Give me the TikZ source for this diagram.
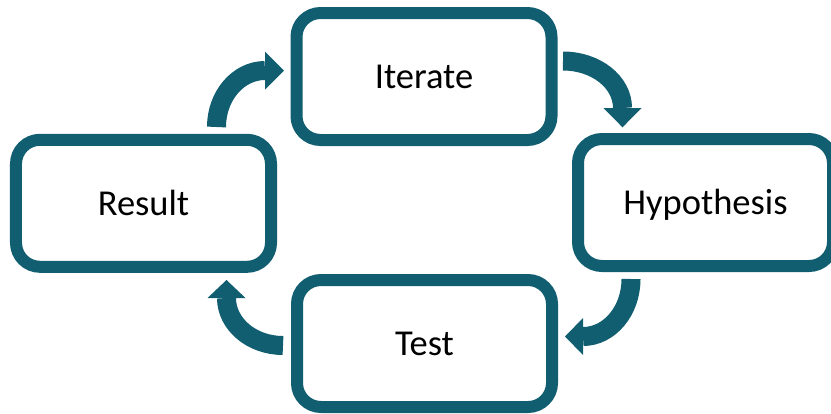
\documentclass[tikz,border=0pt]{standalone}
\usepackage{fontspec}
\setmainfont{Carlito}
\definecolor{teal}{RGB}{17,94,113}
\tikzset{
  stagebox/.style={draw=teal, line width=12bp, rounded corners=24bp, fill=white,
    minimum width=255bp, minimum height=127bp, inner sep=0pt,
    text height=23.5bp, text depth=0pt,
    font=\fontsize{36.5bp}{40bp}\selectfont},
  shaft/.style={draw=teal, line width=19bp, line cap=butt},
  head/.style={fill=teal}
}
\begin{document}
\begin{tikzpicture}[x=1bp,y=-1bp]
\useasboundingbox (0,0) rectangle (831,413);
\clip (0,0) rectangle (831,413);
\node[stagebox] (iter) at (424,76.5) {Iterate};
\node[stagebox] (res) at (143.5,203.3) {Result};
\node[stagebox] (hyp) at (705.5,202.5) {Hypothesis};
\node[stagebox] (test) at (424.5,343.5) {Test};
% arrow Result -> Iterate
\coordinate (a1s) at (216.5,127);
\coordinate (a1b) at (265,70.5);
\coordinate (a1t) at (284,70.5);
\draw[shaft] (a1s) .. controls (216.5,95.8) and (238.2,70.5) .. (a1b);
\fill[head] (265,51.5) -- (a1t) -- (265,89.5) -- cycle;
% arrow Iterate -> Hypothesis
\coordinate (a2s) at (563,61);
\coordinate (a2b) at (622.5,108);
\coordinate (a2t) at (622.5,127.3);
\draw[shaft] (a2s) .. controls (595.9,61) and (622.5,82.0) .. (a2b);
\fill[head] (603.5,108) -- (a2t) -- (641.5,108) -- cycle;
% arrow Hypothesis -> Test
\coordinate (a3s) at (631,279);
\coordinate (a3b) at (583,336.5);
\coordinate (a3t) at (565,336.5);
\draw[shaft] (a3s) .. controls (631,310.8) and (609.5,336.5) .. (a3b);
\fill[head] (583,318) -- (a3t) -- (583,355) -- cycle;
% arrow Test -> Result
\coordinate (a4s) at (283,345.5);
\coordinate (a4b) at (226.5,298);
\coordinate (a4t) at (226.5,280);
\draw[shaft] (a4s) .. controls (251.8,345.5) and (226.5,324.2) .. (a4b);
\fill[head] (207.5,298) -- (a4t) -- (245.5,298) -- cycle;
\end{tikzpicture}
\end{document}
